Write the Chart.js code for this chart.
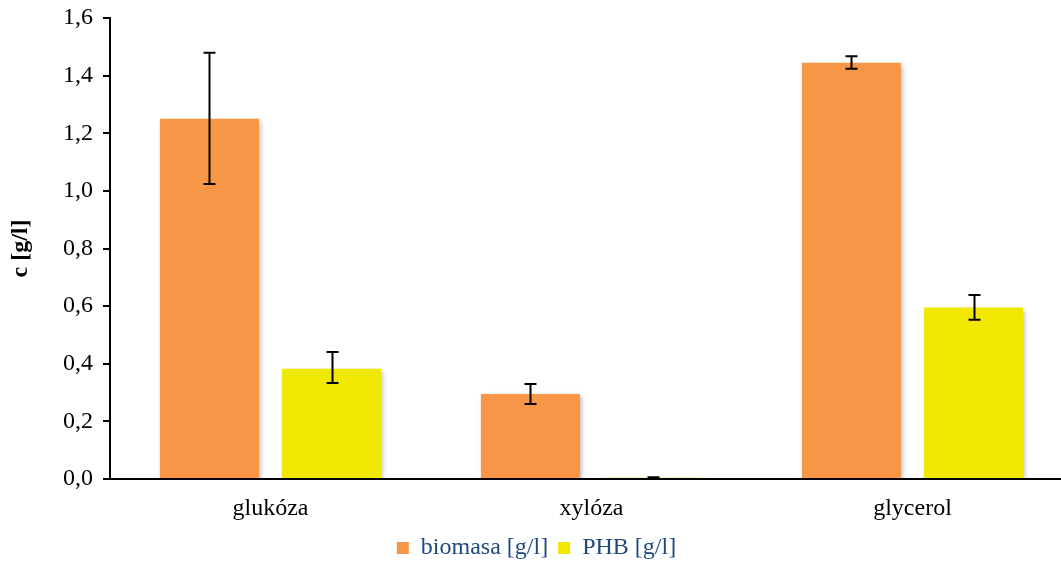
<!DOCTYPE html>
<html><head><meta charset="utf-8">
<script src="https://cdn.jsdelivr.net/npm/chart.js@4.4.1/dist/chart.umd.min.js"></script>
<style>html,body{margin:0;padding:0;background:#fff;overflow:hidden;width:1061px;height:562px}#wrap{width:1073px;height:562px}</style>
</head><body><div id="wrap"><canvas id="c" width="1073" height="562"></canvas></div>
<script>
const categories = ['glukóza', 'xylóza', 'glycerol'];
const biomasa = [1.25, 0.295, 1.445];
const biomasaLow = [1.024, 0.26, 1.424];
const biomasaHigh = [1.479, 0.33, 1.467];
const phb = [0.383, 0.004, 0.595];
const phbLow = [0.333, 0.002, 0.553];
const phbHigh = [0.441, 0.006, 0.639];
const seriesNames = ['biomasa [g/l]', 'PHB [g/l]'];
const yTicks = [0, 0.2, 0.4, 0.6, 0.8, 1.0, 1.2, 1.4, 1.6];

const FONT = '"Liberation Serif", "Times New Roman", serif';

const errorBars = {
  id: 'errorBars',
  beforeDatasetDraw(chart, args) {
    const ctx = chart.ctx;
    ctx.save();
    ctx.shadowColor = 'rgba(0,0,0,0.28)';
    ctx.shadowBlur = 5;
    ctx.shadowOffsetX = 2;
    ctx.shadowOffsetY = 2;
  },
  afterDatasetDraw(chart, args) {
    chart.ctx.restore();
  },
  afterDatasetsDraw(chart) {
    const ctx = chart.ctx;
    const y = chart.scales.y;
    chart.data.datasets.forEach((ds, di) => {
      const meta = chart.getDatasetMeta(di);
      meta.data.forEach((bar, i) => {
        const lo = y.getPixelForValue(ds.errLow[i]);
        const hi = y.getPixelForValue(ds.errHigh[i]);
        const x = Math.round(bar.x) + 0.5;
        ctx.save();
        ctx.strokeStyle = '#000';
        ctx.lineWidth = 2;
        ctx.beginPath();
        ctx.moveTo(x, lo); ctx.lineTo(x, hi);
        ctx.moveTo(x - 6, lo); ctx.lineTo(x + 6, lo);
        ctx.moveTo(x - 6, hi); ctx.lineTo(x + 6, hi);
        ctx.stroke();
        ctx.restore();
      });
    });
  }
};

new Chart(document.getElementById('c'), {
  type: 'bar',
  data: {
    labels: categories,
    datasets: [
      { label: seriesNames[0], data: biomasa, errLow: biomasaLow, errHigh: biomasaHigh,
        backgroundColor: '#F79646', borderWidth: 0,
        categoryPercentage: 0.761, barPercentage: 0.811 },
      { label: seriesNames[1], data: phb, errLow: phbLow, errHigh: phbHigh,
        backgroundColor: '#F0E800', borderWidth: 0,
        categoryPercentage: 0.761, barPercentage: 0.811 }
    ]
  },
  options: {
    responsive: false,
    animation: false,
    devicePixelRatio: 1,
    layout: { padding: { left: 0, right: 0, top: 18, bottom: -8 } },
    plugins: {
      tooltip: { enabled: false },
      legend: {
        position: 'bottom',
        align: 'center',
        labels: {
          boxWidth: 12, boxHeight: 12, padding: 10,
          color: '#1F497D',
          font: { family: FONT, size: 24 }
        }
      }
    },
    scales: {
      x: {
        grid: { display: false, drawTicks: false },
        border: { display: true, color: '#000', width: 2 },
        ticks: { color: '#000', font: { family: FONT, size: 24 }, padding: 15 },
        afterFit(s) { s.height = 47; }
      },
      y: {
        min: 0, max: 1.6,
        afterBuildTicks(s) { s.ticks = yTicks.map(v => ({ value: v })); },
        grid: { display: true, drawOnChartArea: false, drawTicks: true, tickLength: 7, color: '#000', lineWidth: 2 },
        border: { display: true, color: '#000', width: 2 },
        ticks: {
          color: '#000', font: { family: FONT, size: 24 }, padding: 10,
          callback: v => Number(v).toFixed(1).replace('.', ',')
        },
        title: { display: true, text: 'c [g/l]', color: '#000', font: { family: FONT, size: 24, weight: 'bold' }, padding: { top: 6, bottom: 0 } },
        afterFit(s) { s.width = 110; s.paddingTop = 0; s.paddingBottom = 0; }
      }
    }
  },
  plugins: [errorBars]
});
</script></body></html>
